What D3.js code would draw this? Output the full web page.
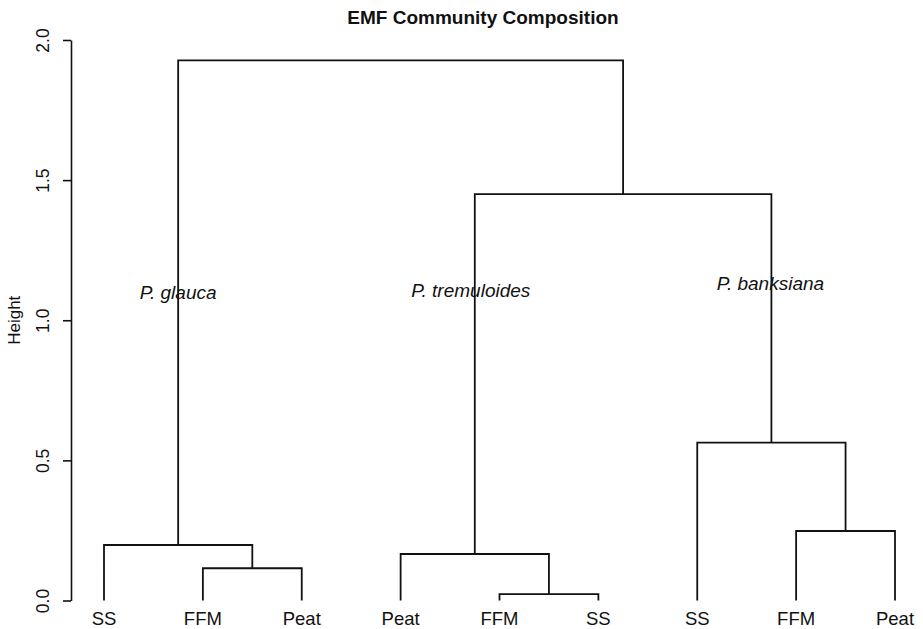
<!DOCTYPE html>
<html>
<head>
<meta charset="utf-8">
<script src="https://cdn.jsdelivr.net/npm/d3@7"></script>
<style>
  body { margin: 0; background: #fff; }
  text { font-family: "Liberation Sans", Arial, sans-serif; fill: #111; }
</style>
</head>
<body>
<div id="chart"></div>
<script>
// leaf labels, in dendrogram order
const leafLabels = ['SS', 'FFM', 'Peat', 'Peat', 'FFM', 'SS', 'SS', 'FFM', 'Peat'];

// merges, R hclust style: negative = leaf (1-based), positive = earlier merge
const mergeLeft = [-5, -2, -4, -1, -8, -7, 3, 4];
const mergeRight = [-6, -3, 1, 2, -9, 5, 6, 7];
const mergeHeight = [0.023, 0.115, 0.166, 0.198, 0.248, 0.563, 1.45, 1.927];

const yTicks = [0, 0.5, 1, 1.5, 2];

// host species labels: position in leaf units, height units
const groupNames = ['P. glauca', 'P. tremuloides', 'P. banksiana'];
const groupX = [1.75, 4.71, 7.74];
const groupY = [1.1, 1.107, 1.13];

const W = 923, H = 629;

const svg = d3.select('#chart').append('svg')
  .attr('width', W)
  .attr('height', H);

const x = d3.scaleLinear().domain([1, 9]).range([104, 895]);
const y = d3.scaleLinear().domain([0, 2]).range([600.5, 40]);

// work out node positions
const nodeX = [], nodeH = [];
const childPos = (id) => id < 0
  ? { x: -id, h: 0 }
  : { x: nodeX[id - 1], h: nodeH[id - 1] };

const segs = [];
mergeHeight.forEach((h, i) => {
  const a = childPos(mergeLeft[i]);
  const b = childPos(mergeRight[i]);
  nodeX.push((a.x + b.x) / 2);
  nodeH.push(h);
  segs.push([[a.x, a.h], [a.x, h], [b.x, h], [b.x, b.h]]);
});

svg.append('g')
  .selectAll('path')
  .data(segs)
  .join('path')
  .attr('d', (d) => d3.line().x((p) => x(p[0])).y((p) => y(p[1]))(d))
  .attr('fill', 'none')
  .attr('stroke', '#111')
  .attr('stroke-width', 1.8);

// leaf labels
svg.append('g')
  .selectAll('text')
  .data(leafLabels)
  .join('text')
  .attr('x', (d, i) => x(i + 1))
  .attr('y', 625)
  .attr('text-anchor', 'middle')
  .style('font-size', '18.5px')
  .text((d) => d);

// y axis
const axis = svg.append('g')
  .attr('transform', 'translate(71,0)')
  .call(d3.axisLeft(y).tickValues(yTicks).tickFormat(d3.format('.1f')).tickSize(8).tickSizeOuter(0));
axis.select('.domain').attr('stroke', '#111').attr('stroke-width', 1.6);
axis.selectAll('.tick line').attr('stroke', '#111').attr('stroke-width', 1.6);
axis.selectAll('.tick text')
  .attr('x', 0)
  .attr('dy', 0)
  .attr('transform', 'translate(-22,0) rotate(-90)')
  .attr('text-anchor', 'middle')
  .style('font-size', '17.5px')
  .style('font-family', '"Liberation Sans", Arial, sans-serif')
  .attr('fill', '#111');

svg.append('text')
  .attr('transform', `translate(20,${y(1)}) rotate(-90)`)
  .attr('text-anchor', 'middle')
  .style('font-size', '17px')
  .text('Height');

// title
svg.append('text')
  .attr('x', 483)
  .attr('y', 24)
  .attr('text-anchor', 'middle')
  .style('font-size', '19px')
  .style('font-weight', 'bold')
  .text('EMF Community Composition');

// species labels
svg.append('g')
  .selectAll('text')
  .data(groupNames)
  .join('text')
  .attr('x', (d, i) => x(groupX[i]))
  .attr('y', (d, i) => y(groupY[i]))
  .attr('dy', '0.35em')
  .attr('text-anchor', 'middle')
  .style('font-size', '19px')
  .style('font-style', 'italic')
  .text((d) => d);
</script>
</body>
</html>
